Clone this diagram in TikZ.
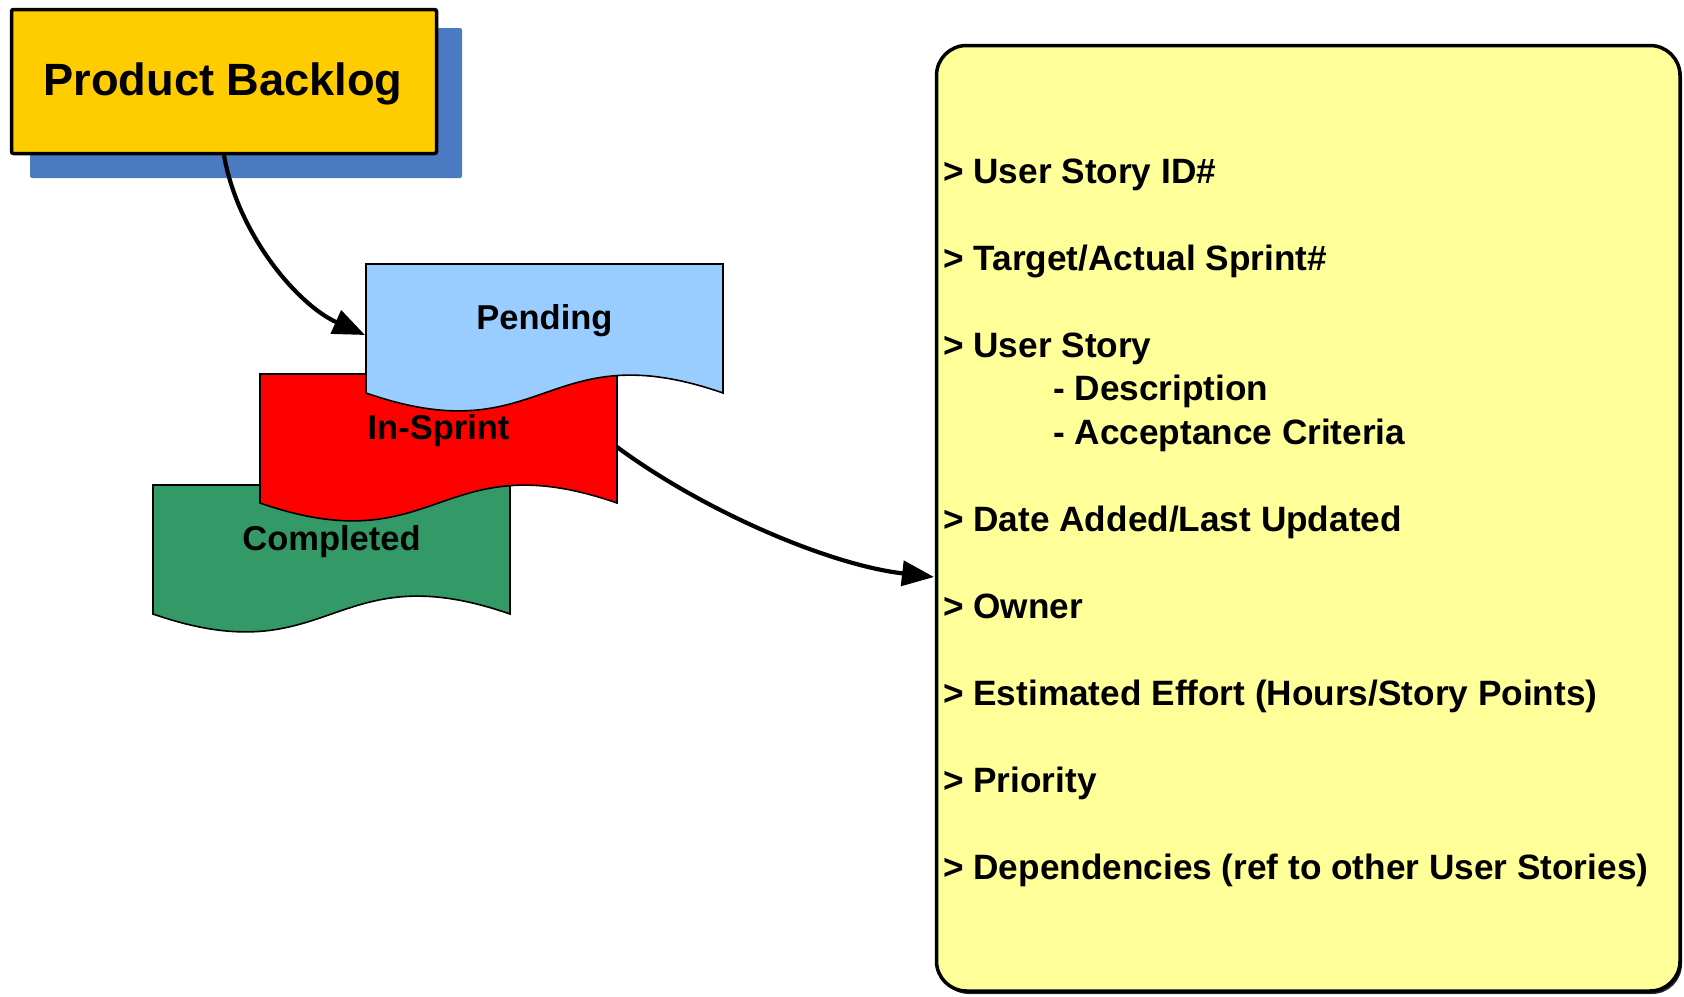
\documentclass[tikz,border=0pt]{standalone}
\usepackage{fontspec}
\setmainfont{Liberation Sans}
\usetikzlibrary{arrows.meta}
\definecolor{pbyellow}{HTML}{FFCC00}
\definecolor{pbshadow}{HTML}{4A7BC2}
\definecolor{pendblue}{HTML}{99CCFF}
\definecolor{sprintred}{HTML}{FF0000}
\definecolor{donegreen}{HTML}{339966}
\definecolor{infoyellow}{HTML}{FFFF99}
\tikzset{
  pbbox/.style={draw=black, line width=3.5pt, fill=pbyellow, rounded corners=2pt,
    minimum width=425pt, minimum height=144pt, inner sep=0pt},
  docshape/.style={draw=black, line width=1.6pt, line join=miter},
  doclabel/.style={anchor=base, inner sep=0pt, font=\bfseries\fontsize{34.5}{40}\selectfont},
  infoline/.style={anchor=base west, inner sep=0pt, font=\bfseries\fontsize{35.2}{40}\selectfont},
  flow/.style={line width=4.2pt, -{Triangle[length=32pt,width=25pt]}},
}
\begin{document}
\begin{tikzpicture}[x=1pt,y=-1pt]
\useasboundingbox (0,0) rectangle (1684,996);

% Product Backlog
\fill[pbshadow, rounded corners=2pt] (30,28) rectangle (462,178);
\node[pbbox] (pb) at (224,81.5) {};
\node[anchor=base, inner sep=0pt, font=\bfseries\fontsize{45.2}{50}\selectfont] (pbtext) at (223,95) {Product Backlog};

% Completed
\filldraw[docshape, fill=donegreen] (153,485) -- (510,485) -- (510,614)
  .. controls (331.5,552) and (331.5,676) .. (153,614) -- cycle;
\node[doclabel] (completed) at (331.5,550) {Completed};

% In-Sprint
\filldraw[docshape, fill=sprintred] (260,374) -- (617,374) -- (617,503)
  .. controls (438.5,441) and (438.5,565) .. (260,503) -- cycle;
\node[doclabel] (insprint) at (438.5,439) {In-Sprint};

% Pending
\filldraw[docshape, fill=pendblue] (366,264) -- (723,264) -- (723,393)
  .. controls (544.5,331) and (544.5,455) .. (366,393) -- cycle;
\node[doclabel] (pending) at (544.5,329) {Pending};

\coordinate (pendW) at (365,335);
\coordinate (sprintE) at (617,447);

% Info box
\fill[black!85, rounded corners=30pt] (939,48) rectangle (1682,994);
\filldraw[draw=black, line width=3.5pt, fill=infoyellow, rounded corners=30pt] (936.5,45.5) rectangle (1680,991);
\coordinate (infoIn) at (934,577);

\node[infoline] (l1) at (943,183) {> User Story ID\#};
\node[infoline] (l2) at (943,270) {> Target/Actual Sprint\#};
\node[infoline] (l3) at (943,357) {> User Story};
\node[infoline] (l4) at (1053,400.5) {- Description};
\node[infoline] (l5) at (1053,444) {- Acceptance Criteria};
\node[infoline] (l6) at (943,531) {> Date Added/Last Updated};
\node[infoline] (l7) at (943,618) {> Owner};
\node[infoline] (l8) at (943,705) {> Estimated Effort (Hours/Story Points)};
\node[infoline] (l9) at (943,792) {> Priority};
\node[infoline] (l10) at (943,879) {> Dependencies (ref to other User Stories)};

% connectors
\draw[flow] (pb.south) .. controls (238,235) and (298,305) .. (pendW);
\draw[flow] (sprintE) .. controls (705,512) and (830,565) .. (infoIn);
\end{tikzpicture}
\end{document}
